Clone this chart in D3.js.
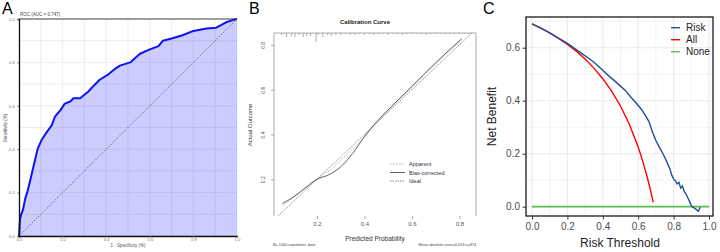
<!DOCTYPE html>
<html>
<head>
<meta charset="utf-8">
<script src="https://cdn.jsdelivr.net/npm/d3@7"></script>
<style>
	body { margin: 0; background: white; }
	svg { display: block; font-family: "Liberation Sans", Arial, sans-serif; }
</style>
</head>
<body>
<div id="wrapper"></div>
<script>
/*panel A: ROC curve*/
const rocFpr = [0,0.002,0.005,0.01,0.018,0.028,0.04,0.05,0.064,0.078,0.087,0.105,0.128,0.15,0.165,0.19,0.21,0.235,0.25,0.28,0.317,0.345,0.37,0.41,0.44,0.463,0.51,0.555,0.6,0.64,0.66,0.7,0.75,0.8,0.86,0.905,0.95,0.98,1]
const rocTpr = [0,0.03,0.08,0.1,0.12,0.17,0.21,0.25,0.31,0.37,0.405,0.445,0.48,0.51,0.55,0.58,0.61,0.62,0.635,0.635,0.665,0.695,0.72,0.745,0.77,0.785,0.8,0.84,0.86,0.875,0.9,0.91,0.925,0.945,0.956,0.96,0.985,0.995,1]
const rocTicks = [0, 0.2, 0.4, 0.6, 0.8, 1.0]
const rocTitle = "ROC (AUC = 0.747)"

/*panel B: calibration curve*/
const calPred = [0.055,0.1,0.15,0.2,0.25,0.3,0.35,0.4,0.45,0.5,0.6,0.7,0.81]
const calBias = [0.092,0.12,0.16,0.2,0.22,0.255,0.315,0.39,0.455,0.51,0.615,0.72,0.828]
const calApparent = [0.085,0.118,0.163,0.203,0.238,0.285,0.335,0.39,0.45,0.505,0.61,0.715,0.822]
const rugX = [0.05,0.072,0.093,0.107,0.125,0.142,0.157,0.173,0.196,0.205,0.225,0.245,0.26,0.28,0.3,0.32,0.34,0.36,0.38,0.4,0.42,0.44,0.46,0.48,0.5,0.52,0.54,0.56,0.58,0.6,0.62,0.64,0.66,0.68,0.7,0.72,0.74,0.76,0.78,0.8,0.82,0.84]
const rugN = [2,4,3,4,2,4,3,3,9,2,4,2,3,2,2,1,2,2,1,2,1,2,1,1,2,1,1,2,1,1,1,1,2,1,1,1,1,1,1,1,1,1]
const calXTicks = [0.2, 0.4, 0.6, 0.8]
const calYTicks = [0.2, 0.4, 0.6, 0.8]
const calLegend = ["Apparent", "Bias-corrected", "Ideal"]

/*panel C: decision curve*/
const dcaRiskX = [0,0.05,0.1,0.15,0.2,0.23,0.26,0.29,0.32,0.35,0.38,0.41,0.44,0.47,0.5,0.53,0.56,0.58,0.6,0.62,0.64,0.66,0.68,0.7,0.72,0.74,0.76,0.78,0.79,0.8,0.81,0.82,0.83,0.84,0.85,0.86,0.87,0.88,0.89,0.9,0.91,0.92,0.93,0.94,0.95]
const dcaRiskY = [0.69,0.674,0.656,0.636,0.616,0.602,0.588,0.574,0.56,0.545,0.527,0.508,0.49,0.473,0.455,0.437,0.412,0.398,0.382,0.366,0.345,0.322,0.283,0.25,0.224,0.2,0.172,0.14,0.118,0.105,0.098,0.086,0.092,0.07,0.078,0.058,0.048,0.034,0.02,0.004,-0.003,-0.006,-0.012,-0.017,-0.002]
const dcaAllX = [0,0.05,0.1,0.15,0.2,0.25,0.3,0.35,0.4,0.45,0.5,0.55,0.6,0.625,0.65,0.665,0.685]
const dcaAllY = [0.69,0.674,0.656,0.635,0.612,0.587,0.557,0.523,0.483,0.436,0.38,0.311,0.225,0.173,0.114,0.075,0.016]
const dcaNoneX = [0, 1]
const dcaNoneY = [0, 0]
const dcaXTicks = [0, 0.2, 0.4, 0.6, 0.8, 1.0]
const dcaYTicks = [0, 0.2, 0.4, 0.6]
const dcaLegend = ["Risk", "All", "None"]
const dcaColors = ["#1f4f9c", "#ff0000", "#5cbd4f"]

function drawChart() {
/*step 1: canvas*/
	const svg = d3.select("#wrapper")
		.append("svg")
		.attr("width", 720)
		.attr("height", 252)

	const fmt = d3.format(".1f")

	// panel letters
	const letters = [["A", 2], ["B", 249], ["C", 483]]
	letters.forEach(function(l) {
		svg.append("text")
			.attr("x", l[1]).attr("y", 14)
			.style("font-size", "16px")
			.text(l[0])
	})

/*step 2: panel A*/
	const xA = d3.scaleLinear().domain([0, 1]).range([19, 237])
	const yA = d3.scaleLinear().domain([0, 1]).range([236, 19])
	const gA = svg.append("g")

	// grid every 0.1
	const gridA = d3.range(0, 1.01, 0.1)
	gA.selectAll(".gvA").data(gridA).enter().append("line")
		.attr("x1", d => xA(d)).attr("x2", d => xA(d))
		.attr("y1", yA(0)).attr("y2", yA(1))
		.style("stroke", "#e3e3e3").style("stroke-width", 0.6)
	gA.selectAll(".ghA").data(gridA).enter().append("line")
		.attr("y1", d => yA(d)).attr("y2", d => yA(d))
		.attr("x1", xA(0)).attr("x2", xA(1))
		.style("stroke", "#e3e3e3").style("stroke-width", 0.6)

	const rocData = rocFpr.map((d, i) => ({x: d, y: rocTpr[i]}))
	const area = d3.area()
		.x(d => xA(d.x))
		.y0(yA(0))
		.y1(d => yA(d.y))
	gA.append("path")
		.datum(rocData)
		.attr("d", area)
		.style("fill", "blue")
		.style("fill-opacity", 0.2)

	gA.append("line")
		.attr("x1", xA(0.01)).attr("y1", yA(0.01))
		.attr("x2", xA(1)).attr("y2", yA(1))
		.style("stroke", "#555").style("stroke-width", 0.8)
		.style("stroke-dasharray", "1.5,1.5")

	const line = d3.line()
		.x(d => xA(d.x))
		.y(d => yA(d.y))
	gA.append("path")
		.datum(rocData)
		.attr("d", line)
		.style("fill", "none")
		.style("stroke", "#0a14f0")
		.style("stroke-width", 2)
		.style("stroke-linejoin", "round")

	// axes
	const xAxisA = gA.append("g")
		.attr("transform", `translate(0,${yA(0)})`)
		.call(d3.axisBottom(xA).tickValues(rocTicks).tickFormat(fmt).tickSize(1.5).tickPadding(1))
	const yAxisA = gA.append("g")
		.attr("transform", `translate(${xA(0)},0)`)
		.call(d3.axisLeft(yA).tickValues(rocTicks).tickFormat(fmt).tickSize(1.5).tickPadding(3))
	;[xAxisA, yAxisA].forEach(function(ax) {
		ax.select(".domain").style("stroke", "#111").style("stroke-width", 1.3)
		ax.selectAll(".tick line").style("stroke", "#666")
		ax.selectAll("text").style("font-size", "4.2px").style("fill", "#777").style("font-family", "Liberation Sans")
	})
	gA.append("line")
		.attr("x1", xA(0)).attr("x2", xA(1))
		.attr("y1", yA(1)).attr("y2", yA(1))
		.style("stroke", "#333").style("stroke-width", 0.9)

	gA.append("text")
		.attr("x", 20).attr("y", 15.5)
		.style("font-size", "4.5px").style("fill", "#444")
		.text(rocTitle)
	gA.append("text")
		.attr("x", 128).attr("y", 247)
		.attr("text-anchor", "middle")
		.style("font-size", "4.5px").style("fill", "#555")
		.text("1 - Specificity (%)")
	gA.append("text")
		.attr("transform", "translate(6.5,128) rotate(-90)")
		.attr("text-anchor", "middle")
		.style("font-size", "4.5px").style("fill", "#555")
		.text("Sensitivity (%)")

/*step 3: panel B*/
	const xB = d3.scaleLinear().domain([0.019, 0.87]).range([274, 476])
	const yB = d3.scaleLinear().domain([0.036, 0.853]).range([216, 33])
	const gB = svg.append("g")

	gB.append("text")
		.attr("x", 365).attr("y", 24)
		.attr("text-anchor", "middle")
		.style("font-size", "6px").style("font-weight", "bold").style("fill", "#222")
		.text("Calibration Curve")

	// frame: left, top, right
	gB.append("path")
		.attr("d", `M${xB.range()[0]},${yB.range()[0]}V${yB.range()[1]}H${xB.range()[1]}V${yB.range()[0]}`)
		.style("fill", "none").style("stroke", "#888").style("stroke-width", 0.7)

	// rug of predicted probabilities
	const rugScale = d3.scaleLinear().domain([0, 9]).range([0, 9])
	gB.selectAll(".rug").data(rugX).enter().append("line")
		.attr("x1", d => xB(d)).attr("x2", d => xB(d))
		.attr("y1", yB.range()[1])
		.attr("y2", (d, i) => yB.range()[1] + rugScale(rugN[i]))
		.style("stroke", "#777").style("stroke-width", 0.6)

	const xAxisB = gB.append("g")
		.attr("transform", `translate(0,${yB.range()[0]})`)
		.call(d3.axisBottom(xB).tickValues(calXTicks).tickFormat(fmt).tickSize(3).tickPadding(3))
	const yAxisB = gB.append("g")
		.attr("transform", `translate(${xB.range()[0]},0)`)
		.call(d3.axisLeft(yB).tickValues(calYTicks).tickFormat(fmt).tickSize(3).tickPadding(0))
	xAxisB.select(".domain").remove()
	yAxisB.select(".domain").remove()
	;[xAxisB, yAxisB].forEach(function(ax) {
		ax.selectAll(".tick line").style("stroke", "#777").style("stroke-width", 0.6)
		ax.selectAll("text").style("font-family", "Liberation Sans").style("fill", "#555")
	})
	xAxisB.selectAll("text").style("font-size", "6px")
	yAxisB.selectAll("text")
		.style("font-size", "5px")
		.attr("text-anchor", "middle")
		.attr("x", null).attr("dy", null)
		.attr("transform", "translate(-9,0) rotate(-90)")

	const lineB = d3.line()
		.x(d => xB(d.x))
		.y(d => yB(d.y))
	gB.append("path")
		.datum([{x: 0.036, y: 0.036}, {x: 0.853, y: 0.853}])
		.attr("d", lineB)
		.style("fill", "none").style("stroke", "#555").style("stroke-width", 0.6)
		.style("stroke-dasharray", "1.5,1")
	gB.append("path")
		.datum(calPred.map((d, i) => ({x: d, y: calApparent[i]})))
		.attr("d", lineB.curve(d3.curveMonotoneX))
		.style("fill", "none").style("stroke", "#aaa").style("stroke-width", 0.7)
		.style("stroke-dasharray", "2,1")
	gB.append("path")
		.datum(calPred.map((d, i) => ({x: d, y: calBias[i]})))
		.attr("d", lineB.curve(d3.curveMonotoneX))
		.style("fill", "none").style("stroke", "#222").style("stroke-width", 0.7)

	const legB = gB.append("g")
	const legStyles = [["#aaa", "2,1"], ["#222", null], ["#555", "1.5,1"]]
	calLegend.forEach(function(name, i) {
		const y = 164 + i * 8.5
		legB.append("line")
			.attr("x1", 390).attr("x2", 405).attr("y1", y).attr("y2", y)
			.style("stroke", legStyles[i][0]).style("stroke-width", 0.7)
			.style("stroke-dasharray", legStyles[i][1])
		legB.append("text")
			.attr("x", 409).attr("y", y + 2)
			.style("font-size", "5.5px").style("fill", "#333")
			.text(name)
	})

	gB.append("text")
		.attr("x", 375).attr("y", 241)
		.attr("text-anchor", "middle")
		.style("font-size", "6.5px").style("fill", "#333")
		.text("Predicted Probability")
	gB.append("text")
		.attr("transform", "translate(252,125) rotate(-90)")
		.attr("text-anchor", "middle")
		.style("font-size", "6px").style("fill", "#333")
		.text("Actual Outcome")
	gB.append("text")
		.attr("x", 273).attr("y", 245.5)
		.style("font-size", "3.8px").style("fill", "#444")
		.text("B= 1000 repetitions, boot")
	gB.append("text")
		.attr("x", 476).attr("y", 245.5)
		.attr("text-anchor", "end")
		.style("font-size", "3.8px").style("fill", "#444")
		.text("Mean absolute error=0.013 n=874")

/*step 4: panel C*/
	const xC = d3.scaleLinear().domain([0, 1]).range([532, 709])
	const yC = d3.scaleLinear().domain([0, 0.6]).range([206.7, 47.7])
	const gC = svg.append("g")
	const left = 526, right = 713, top = 17, bottom = 216

	const gridX = d3.range(0, 1.01, 0.1)
	const gridY = d3.range(0, 0.71, 0.1)
	gC.selectAll(".gvC").data(gridX).enter().append("line")
		.attr("x1", d => xC(d)).attr("x2", d => xC(d))
		.attr("y1", top).attr("y2", bottom)
		.style("stroke", "#ebebeb").style("stroke-width", (d, i) => i % 2 ? 0.6 : 1.1)
	gC.selectAll(".ghC").data(gridY).enter().append("line")
		.attr("y1", d => yC(d)).attr("y2", d => yC(d))
		.attr("x1", left).attr("x2", right)
		.style("stroke", "#ebebeb").style("stroke-width", (d, i) => i % 2 ? 0.6 : 1.1)

	const lineC = d3.line()
		.x(d => xC(d.x))
		.y(d => yC(d.y))
	const series = [
		[dcaNoneX, dcaNoneY, dcaColors[2], 1.8],
		[dcaAllX, dcaAllY, dcaColors[1], 1.4],
		[dcaRiskX, dcaRiskY, dcaColors[0], 1.4]
	]
	series.forEach(function(s) {
		gC.append("path")
			.datum(s[0].map((d, i) => ({x: d, y: s[1][i]})))
			.attr("d", lineC)
			.style("fill", "none")
			.style("stroke", s[2])
			.style("stroke-width", s[3])
	})

	gC.append("rect")
		.attr("x", left).attr("y", top)
		.attr("width", right - left).attr("height", bottom - top)
		.style("fill", "none").style("stroke", "#1a1a1a").style("stroke-width", 1.3)

	const xAxisC = gC.append("g")
		.attr("transform", `translate(0,${bottom})`)
		.call(d3.axisBottom(xC).tickValues(dcaXTicks).tickFormat(fmt).tickSize(3.5).tickPadding(3))
	const yAxisC = gC.append("g")
		.attr("transform", `translate(${left},0)`)
		.call(d3.axisLeft(yC).tickValues(dcaYTicks).tickFormat(fmt).tickSize(3.5).tickPadding(2.5))
	;[xAxisC, yAxisC].forEach(function(ax) {
		ax.select(".domain").remove()
		ax.selectAll(".tick line").style("stroke", "#333").style("stroke-width", 1)
		ax.selectAll("text")
			.style("font-size", "10px").style("fill", "#4d4d4d")
			.style("font-family", "Liberation Sans")
	})

	gC.append("text")
		.attr("x", 620).attr("y", 247)
		.attr("text-anchor", "middle")
		.style("font-size", "12px").style("fill", "#222")
		.text("Risk Threshold")
	gC.append("text")
		.attr("transform", "translate(496,116.5) rotate(-90)")
		.attr("text-anchor", "middle")
		.style("font-size", "12px").style("fill", "#222")
		.text("Net Benefit")

	dcaLegend.forEach(function(name, i) {
		const y = 27.7 + i * 12
		gC.append("line")
			.attr("x1", 671).attr("x2", 680).attr("y1", y).attr("y2", y)
			.style("stroke", dcaColors[i]).style("stroke-width", 1.4)
		gC.append("text")
			.attr("x", 686).attr("y", y + 3.5)
			.style("font-size", "10px").style("fill", "#222")
			.text(name)
	})
}
drawChart()
</script>
</body>
</html>
